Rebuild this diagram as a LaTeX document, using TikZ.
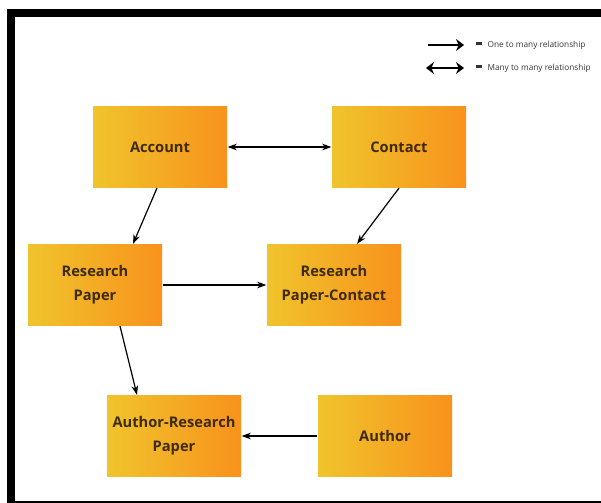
\documentclass[tikz,border=0pt]{standalone}
\usepackage{fontspec}
\setmainfont{Open Sans}
\usetikzlibrary{arrows.meta}
\definecolor{boxyellow}{HTML}{F0C42C}
\definecolor{boxorange}{HTML}{F8921C}
\definecolor{boxtext}{HTML}{3E2A05}

\begin{document}
\begin{tikzpicture}[x=0.75pt,y=-0.75pt,->,>={Stealth[length=7pt,width=5pt]},
        line width=0.9pt,
        entity/.style={rectangle,left color=boxyellow,right color=boxorange,
          minimum width=100.5pt,minimum height=60.75pt,align=center,inner sep=0pt,
          text=boxtext,font=\fontsize{11}{18}\selectfont\bfseries},
        legend/.style={anchor=west,inner sep=0pt,text=black!80,font=\fontsize{6.2}{7}\selectfont}]

  \useasboundingbox (0,0) rectangle (601,503);
  \draw[-,line width=6pt] (11,503) -- (11,13) -- (601,13);
  \draw[-,line width=1.5pt] (11,502) -- (601,502);

  % legend
  \coordinate (one1) at (428,45);
  \coordinate (one2) at (464,45);
  \coordinate (many1) at (426,68);
  \coordinate (many2) at (464,68);
  \node[legend] (onetext) at (475,45) {\rule[1.3pt]{5pt}{2.2pt}\hspace{4pt}One to many relationship};
  \node[legend] (manytext) at (475,68) {\rule[1.3pt]{5pt}{2.2pt}\hspace{4pt}Many to many relationship};
  \draw[line width=2.2pt,-{Stealth[length=6pt,width=9pt]}] (one1) -- (one2);
  \draw[line width=2.2pt,{Stealth[length=6pt,width=9pt]}-{Stealth[length=6pt,width=9pt]}] (many1) -- (many2);

  % entities
  \node[entity] (acc) at (160,147) {Account};
  \node[entity] (con) at (399,147) {Contact};
  \node[entity] (rp)  at (95,285)  {Research\\Paper};
  \node[entity] (rpc) at (334,285) {Research\\Paper-Contact};
  \node[entity] (arp) at (174,436) {Author-Research\\Paper};
  \node[entity] (aut) at (385,436) {Author};

  \path (acc) edge [<->] (con)
        ([xshift=-2.25pt]acc.south) edge ([xshift=28.5pt]rp.north)
        (con.south) edge ([xshift=17.25pt]rpc.north)
        (rp) edge (rpc)
        ([xshift=18.75pt]rp.south) edge ([xshift=-27.75pt]arp.north)
        (aut) edge (arp);

\end{tikzpicture}
\end{document}
